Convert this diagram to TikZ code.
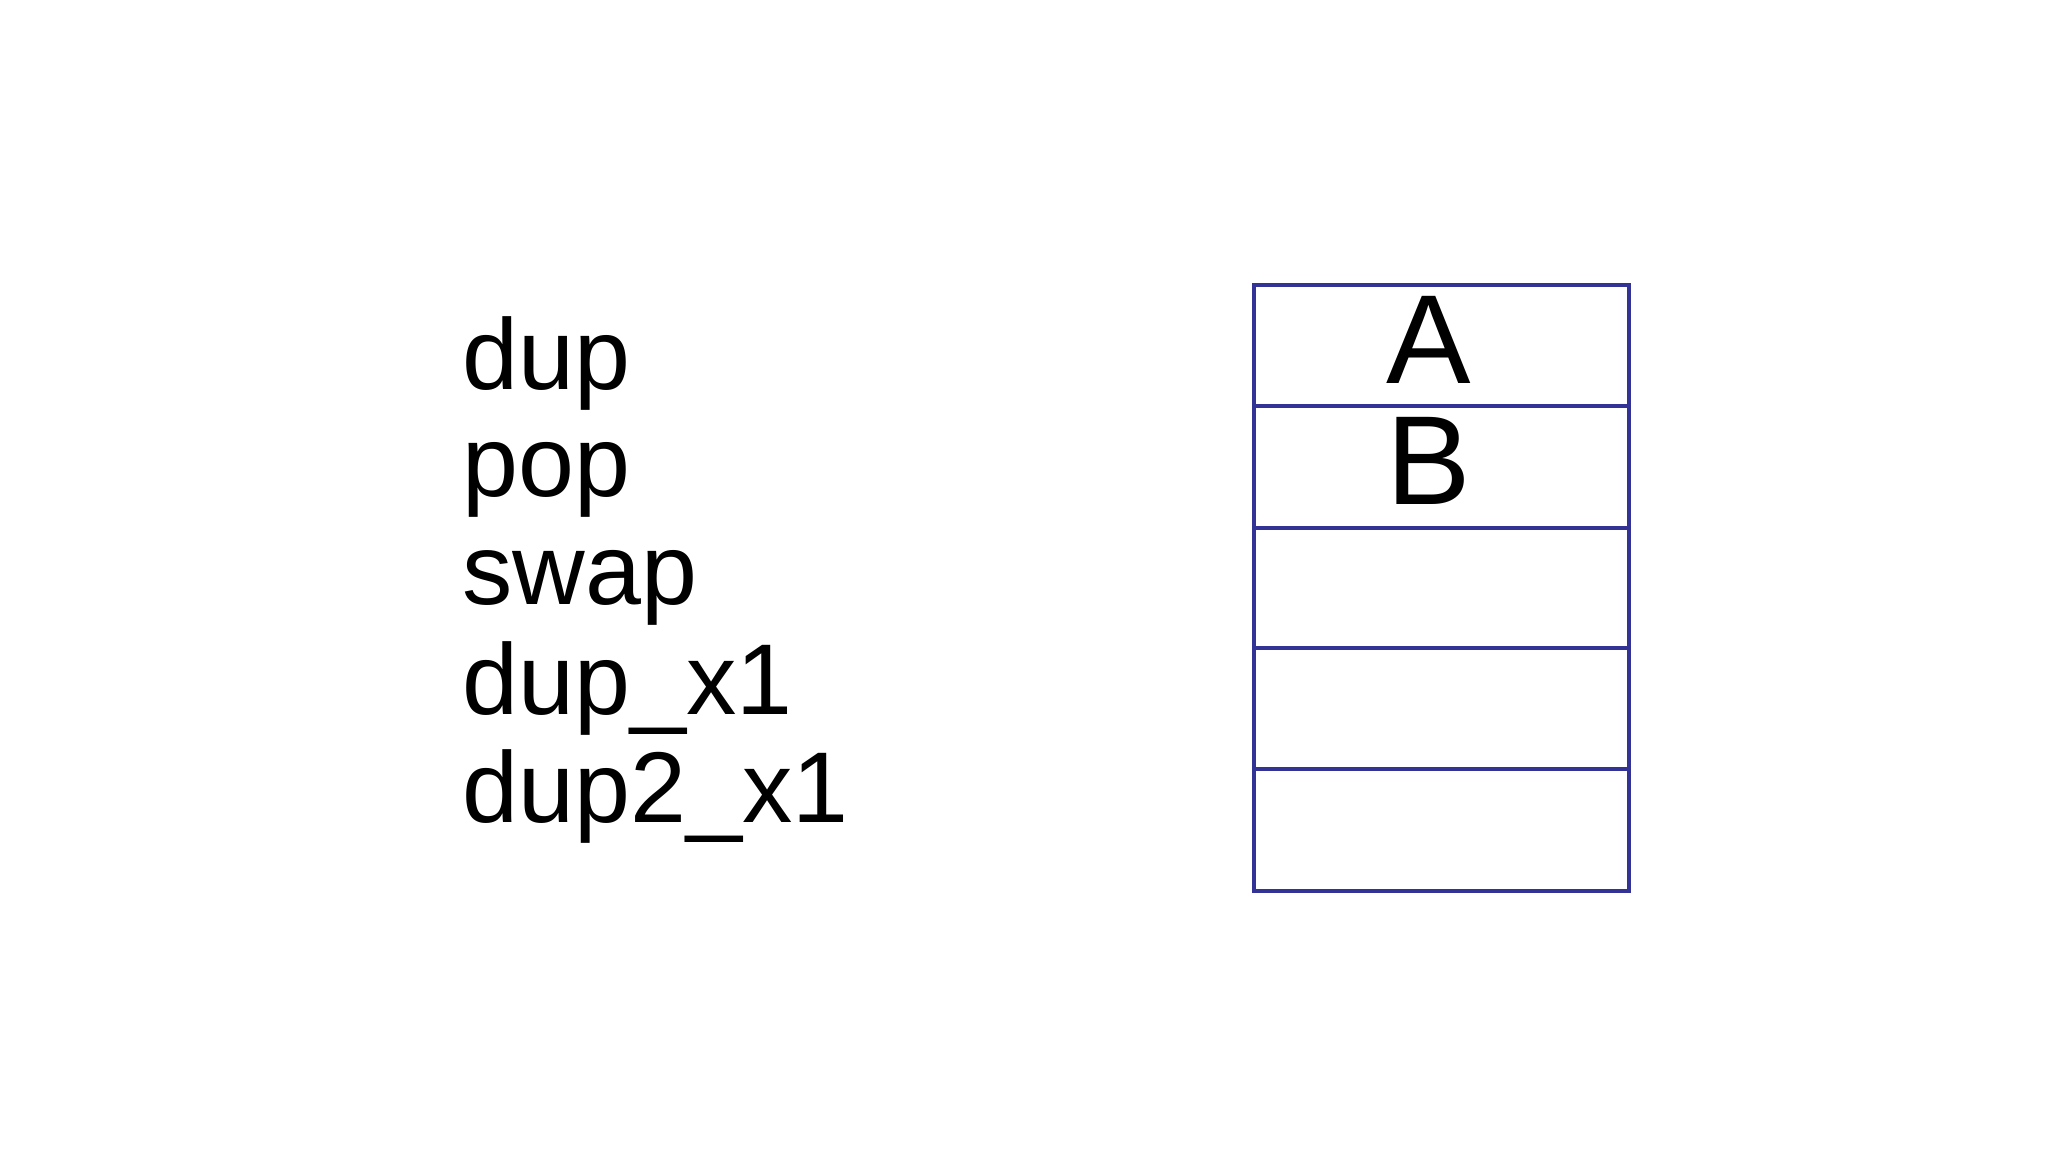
\documentclass[tikz,border=0pt]{standalone}
\usepackage{fontspec}
\setmainfont{Liberation Sans}
\definecolor{stk}{RGB}{51,51,150}
\begin{document}
\begin{tikzpicture}[x=1pt,y=-1pt,
  cmd/.style={anchor=base west,inner sep=0pt,font=\fontsize{77}{80}\selectfont},
  lett/.style={anchor=base,inner sep=0pt,font=\fontsize{97}{100}\selectfont},
  cell/.style={draw=stk,line width=3pt}]
\useasboundingbox (0,0) rectangle (1568,882);
\node[cmd] (c1) at (354,298) {dup};
\node[cmd] (c2) at (354,380) {pop};
\node[cmd] (c3) at (354,463) {swap};
\node[cmd] (c4) at (354,547) {dup\_x1};
\node[cmd] (c5) at (354,630) {dup2\_x1};
\foreach \t/\b in {218/311,311/404,404/496,496/589,589/682}
  \draw[cell] (960,\t) rectangle (1247,\b);
\node[lett] (a) at (1094,294) {A};
\node[lett] (b) at (1094,386) {B};
\end{tikzpicture}
\end{document}
